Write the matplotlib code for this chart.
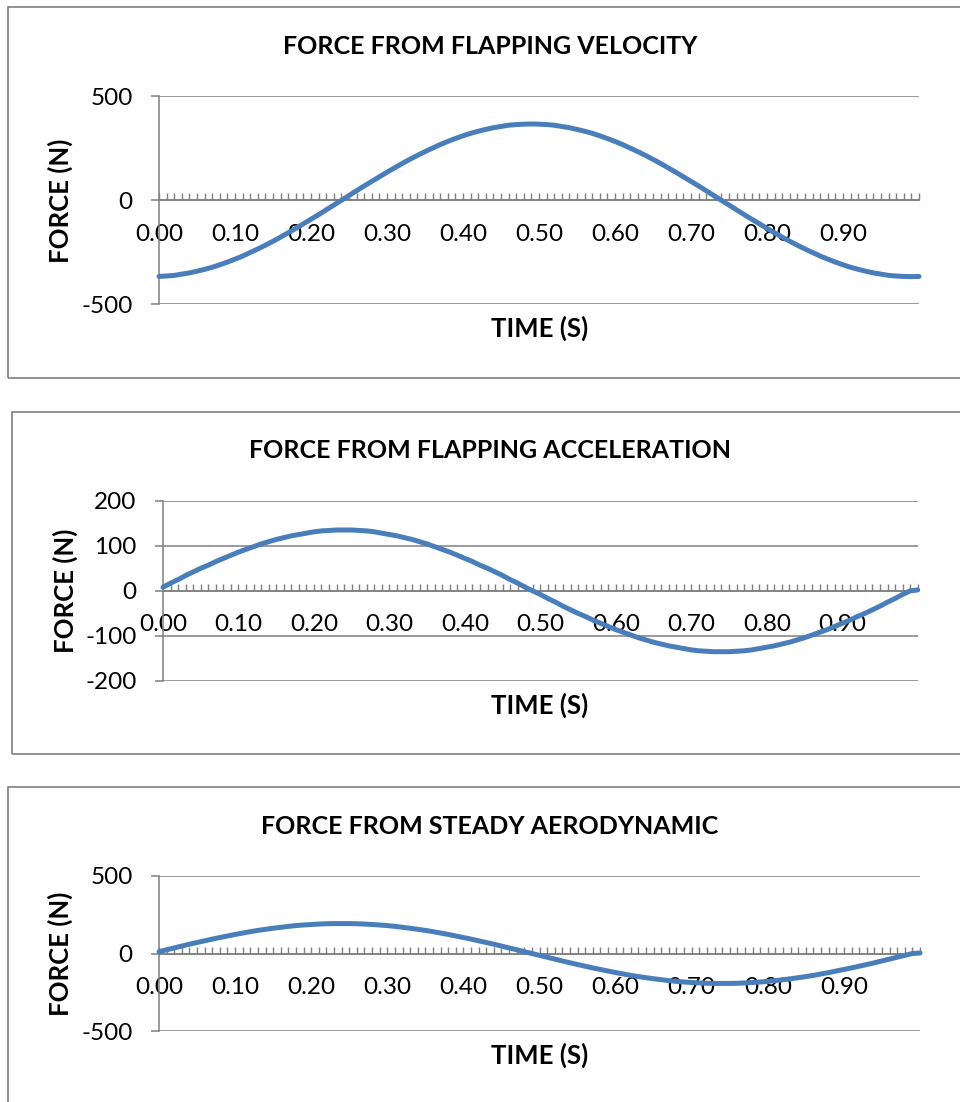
import numpy as np
import matplotlib
matplotlib.use("Agg")
import matplotlib.pyplot as plt
from matplotlib.patches import Rectangle
from matplotlib.ticker import MultipleLocator, FixedLocator, FixedFormatter

plt.rcParams['font.family'] = ['Lato', 'DejaVu Sans']

# Time categories (s) and the labels shown on the category axis
time_s = np.round(np.arange(0, 101) * 0.01, 2)
time_labels = ["0.00", "0.10", "0.20", "0.30", "0.40",
               "0.50", "0.60", "0.70", "0.80", "0.90"]

# Force from flapping velocity (N)
force_velocity = [
    -366, -364, -361, -355, -349, -341, -332, -322, -310, -297,
    -283, -268, -251, -234, -216, -197, -177, -156, -135, -113,
    -91, -69, -46, -23, 0,
    23, 46, 69, 91, 113, 135, 156, 177, 197, 216, 234, 251, 268,
    283, 297, 310, 322, 332, 341, 349, 355, 361, 364, 366,
    367,
    366, 364, 361, 355, 349, 341, 332, 322, 310, 297, 283, 268,
    251, 234, 216, 197, 177, 156, 135, 113, 91, 69, 46, 23,
    0,
    -23, -46, -69, -91, -113, -135, -156, -177, -197, -216, -234,
    -251, -268, -283, -297, -310, -322, -332, -341, -349, -355,
    -361, -364, -366,
    -367, -366,
]

# Force from flapping acceleration (N)
force_acceleration = [
    8, 17, 25, 34, 42, 50, 57, 65, 72, 79, 86, 92, 98, 104, 109,
    114, 118, 122, 125, 128, 131, 133, 134, 135, 135,
    135, 134, 133, 131, 128, 125, 122, 118, 114, 109, 104, 98, 92,
    86, 79, 72, 65, 57, 50, 42, 34, 25, 17, 8,
    0,
    -8, -17, -25, -34, -42, -50, -57, -65, -72, -79, -86, -92, -98,
    -104, -109, -114, -118, -122, -125, -128, -131, -133, -134,
    -135, -135,
    -135, -134, -133, -131, -128, -125, -122, -118, -114, -109,
    -104, -98, -92, -86, -79, -72, -65, -57, -50, -42, -34, -25,
    -17, -8,
    0, 2,
]

# Force from steady aerodynamics (N)
force_steady = [
    12, 24, 36, 48, 60, 71, 82, 93, 103, 113, 123, 132, 141, 149,
    156, 163, 169, 175, 180, 184, 187, 190, 192, 193, 193,
    193, 192, 190, 187, 184, 180, 175, 169, 163, 156, 149, 141, 132,
    123, 113, 103, 93, 82, 71, 60, 48, 36, 24, 12,
    0,
    -12, -24, -36, -48, -60, -71, -82, -93, -103, -113, -123, -132,
    -141, -149, -156, -163, -169, -175, -180, -184, -187, -190,
    -192, -193, -193,
    -193, -192, -190, -187, -184, -180, -175, -169, -163, -156,
    -149, -141, -132, -123, -113, -103, -93, -82, -71, -60, -48,
    -36, -24, -12,
    0, 3,
]

titles = ["FORCE FROM FLAPPING VELOCITY",
          "FORCE FROM FLAPPING ACCELERATION",
          "FORCE FROM STEADY AERODYNAMIC"]
x_title = "TIME (S)"
y_title = "FORCE (N)"

W, H = 960, 1102
fig = plt.figure(figsize=(W / 100, H / 100), dpi=100)


def fx(x):
    return x / W


def fy(y):
    return 1 - y / H


GRAY = "#7f7f7f"
BLUE = "#4A7EBB"

panels = [
    dict(data=force_velocity, ylim=(-500, 500), yticks=[-500, 0, 500],
         box=(159, 96.3, 919, 304.3), frame=(8, 7, 378),
         ty=46, xly=328, yl=(60, 201)),
    dict(data=force_acceleration, ylim=(-200, 200),
         yticks=[-200, -100, 0, 100, 200],
         box=(163, 500.7, 917.7, 681), frame=(12, 412, 754),
         ty=450, xly=705, yl=(65, 591)),
    dict(data=force_steady, ylim=(-500, 500), yticks=[-500, 0, 500],
         box=(159, 876, 920, 1031), frame=(8, 787, 1130),
         ty=826, xly=1055, yl=(60, 954)),
]

x = np.arange(len(time_s))

for title, p in zip(titles, panels):
    fl, ft, fb = p["frame"]
    fig.patches.append(Rectangle((fx(fl), fy(fb)), fx(W + 50 - fl),
                                 (fb - ft) / H, transform=fig.transFigure,
                                 fill=False, edgecolor=GRAY, lw=1.2,
                                 figure=fig))

    l, t, r, b = p["box"]
    ax = fig.add_axes([fx(l), fy(b), (r - l) / W, (b - t) / H])
    ax.set_facecolor("none")
    ax.plot(x, p["data"], color=BLUE, lw=3.6, solid_capstyle="round",
            zorder=3, clip_on=False)
    ax.set_xlim(0, len(time_s) - 1)
    ax.set_ylim(*p["ylim"])

    ax.set_yticks(p["yticks"])
    ax.set_yticklabels([str(v) for v in p["yticks"]])
    ax.yaxis.grid(True, color=GRAY, lw=1.1)
    ax.set_axisbelow("line")

    for s in ("top", "right"):
        ax.spines[s].set_visible(False)
    ax.spines["left"].set_color(GRAY)
    ax.spines["left"].set_linewidth(1.1)
    ax.spines["bottom"].set_position(("data", 0))
    ax.spines["bottom"].set_color(GRAY)
    ax.spines["bottom"].set_linewidth(1.1)

    ax.xaxis.set_major_locator(FixedLocator(list(range(0, 100, 10))))
    ax.xaxis.set_major_formatter(FixedFormatter(time_labels))
    ax.xaxis.set_minor_locator(MultipleLocator(1))
    ax.tick_params(axis="x", which="both", direction="in", length=4.8,
                   width=1.0, color=GRAY, labelsize=17.5, pad=17)
    ax.tick_params(axis="y", direction="out", length=6, width=1.1,
                   color=GRAY, labelsize=17.5, pad=13)

    fig.text(fx(490), fy(p["ty"]), title, ha="center", va="center",
             fontsize=18, fontweight="bold")
    fig.text(fx(540), fy(p["xly"]), x_title, ha="center", va="center",
             fontsize=18.5, fontweight="bold")
    fig.text(fx(p["yl"][0]), fy(p["yl"][1]), y_title, ha="center",
             va="center", rotation=90, fontsize=18.5, fontweight="bold")

fig.savefig("out.png", dpi=100)
